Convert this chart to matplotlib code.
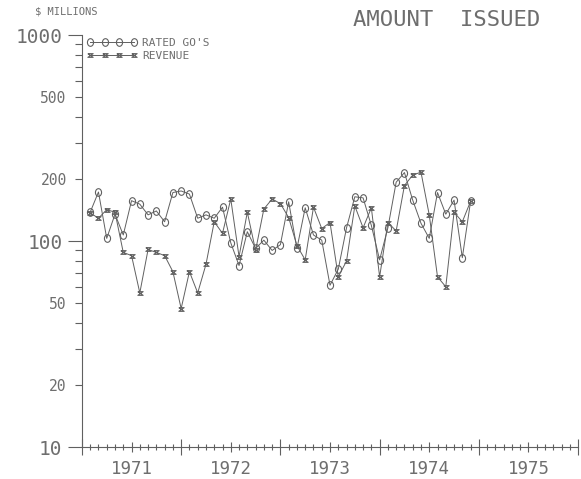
import numpy as np
import matplotlib.pyplot as plt
from matplotlib.path import Path
from matplotlib.ticker import FixedLocator, NullFormatter

# monthly amounts issued, $ millions (Jan 1971 .. Nov 1974)
rated_go = [138, 173, 103, 135, 107, 157, 151, 134, 140, 124, 172, 175,
            169, 129, 134, 129, 146, 98, 76, 111, 92, 101, 90, 96,
            155, 92, 145, 107, 101, 61, 73, 116, 164, 162, 119, 81,
            116, 193, 215, 158, 122, 103, 172, 135, 158, 83, 156]
revenue = [137, 129, 142, 138, 88, 85, 56, 91, 88, 85, 71, 47,
           71, 56, 77, 124, 109, 160, 84, 138, 90, 143, 160, 152,
           130, 95, 81, 146, 115, 123, 67, 80, 148, 116, 145, 67,
           123, 112, 186, 209, 216, 134, 67, 60, 138, 124, 156]
years = [1971, 1972, 1973, 1974, 1975]

t = 1971 + np.arange(1, len(rated_go) + 1) / 12.0

ink = '#606060'
txt_c = '#6e6e6e'
mono = 'DejaVu Sans Mono'

# plotter-style markers
circ = Path.unit_circle()
circ = Path(circ.vertices * [0.8, 1.0], circ.codes)
hourglass = Path([(-1, 0.7), (1, 0.7), (-1, -0.7), (1, -0.7), (-1, 0.7)])

fig = plt.figure(figsize=(5.81, 4.79), dpi=100)
ax = fig.add_axes([0.141, 0.0668, 0.854, 0.860])

ax.plot(t, rated_go, color=ink, lw=0.7, marker=circ, ms=5.5, mfc='none',
        mec=ink, mew=0.8, label="RATED GO'S")
ax.plot(t, revenue, color=ink, lw=0.7, marker=hourglass, ms=3.8, mfc='none',
        mec=ink, mew=0.8, label='REVENUE')

ax.set_yscale('log')
ax.set_ylim(10, 1000)
ax.set_xlim(1971, 1976)

for s in ['top', 'right']:
    ax.spines[s].set_visible(False)
for s in ['left', 'bottom']:
    ax.spines[s].set_color(ink)
    ax.spines[s].set_linewidth(0.8)

# y axis
ax.yaxis.set_major_locator(FixedLocator([10, 100, 1000]))
ax.set_yticklabels(['10', '100', '1000'])
minor_y = [m * d for d in [10, 100] for m in range(2, 10)]
ax.yaxis.set_minor_locator(FixedLocator(minor_y))
ax.yaxis.set_minor_formatter(plt.FuncFormatter(
    lambda v, p: '%d' % v if int(round(v)) in (20, 50, 200, 500) else ''))
ax.tick_params(axis='y', which='major', direction='out', length=10,
               width=0.8, color=ink, labelsize=14, labelcolor=txt_c, pad=4)
ax.tick_params(axis='y', which='minor', direction='out', length=5,
               width=0.8, color=ink, labelsize=10.5, labelcolor=txt_c, pad=6)
for lab in ax.get_yticklabels() + ax.get_yticklabels(minor=True):
    lab.set_family(mono)

# x axis: year boundaries, months, mid-year labels
ax.xaxis.set_major_locator(FixedLocator(years + [1976]))
ax.xaxis.set_major_formatter(NullFormatter())
months = [y + m / 12.0 for y in years for m in range(1, 12) if m != 6]
ax.xaxis.set_minor_locator(FixedLocator(months))
ax.tick_params(axis='x', which='major', direction='inout', length=11,
               width=0.8, color=ink)
ax.tick_params(axis='x', which='minor', direction='inout', length=5,
               width=0.8, color=ink)

sec = ax.secondary_xaxis('bottom')
sec.spines['bottom'].set_visible(False)
sec.set_xticks([y + 0.5 for y in years])
sec.set_xticklabels([str(y) for y in years], family=mono, fontsize=12.5,
                    color=txt_c)
sec.tick_params(direction='inout', length=7, width=0.8, color=ink, pad=6)

leg = ax.legend(loc='upper left', bbox_to_anchor=(0.01, 0.993), frameon=False,
                numpoints=4, handlelength=4.5, handletextpad=0.5,
                labelspacing=0.25, borderpad=0, borderaxespad=0,
                prop={'family': mono, 'size': 8})
for txt in leg.get_texts():
    txt.set_color(txt_c)

fig.text(0.06, 0.975, r'\$ MILLIONS', family=mono, fontsize=7.5,
         color=txt_c, va='center', ha='left')
fig.text(0.93, 0.958, 'AMOUNT  ISSUED', family=mono, fontsize=16,
         color=txt_c, va='center', ha='right')

fig.savefig('out.png', dpi=100, facecolor='white')
